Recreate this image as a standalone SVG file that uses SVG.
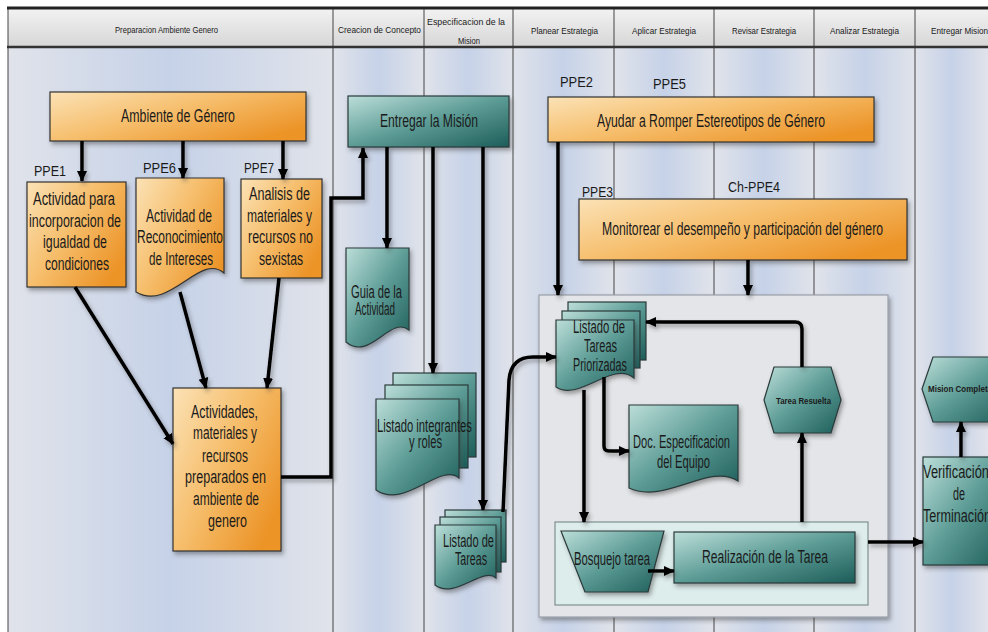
<svg xmlns="http://www.w3.org/2000/svg" width="988" height="632" viewBox="0 0 988 632">
<defs>
<linearGradient id="lane" x1="0" y1="0" x2="1" y2="0">
<stop offset="0" stop-color="#e0e3ea"/><stop offset="0.5" stop-color="#c6d2e8"/><stop offset="1" stop-color="#e0e3ea"/>
</linearGradient>
<linearGradient id="hdr" x1="0" y1="0" x2="0" y2="1">
<stop offset="0" stop-color="#f2f2f2"/><stop offset="1" stop-color="#d6d6d6"/>
</linearGradient>
<linearGradient id="og" x1="0" y1="0" x2="1" y2="0.7">
<stop offset="0" stop-color="#fbe2b6"/><stop offset="0.5" stop-color="#f6be6c"/><stop offset="1" stop-color="#ec9428"/>
</linearGradient>
<linearGradient id="tg" x1="0" y1="0" x2="1" y2="1">
<stop offset="0" stop-color="#bcded9"/><stop offset="0.5" stop-color="#5d9c96"/><stop offset="1" stop-color="#1d5d59"/>
</linearGradient>
<filter id="sh" x="-20%" y="-20%" width="140%" height="140%">
<feDropShadow dx="2" dy="3" stdDeviation="2" flood-color="#3a3a3a" flood-opacity="0.45"/>
</filter>
<marker id="ah" markerUnits="userSpaceOnUse" markerWidth="12" markerHeight="12" refX="10" refY="6" orient="auto">
<path d="M0,1 L11,6 L0,11 z" fill="#000"/>
</marker>
</defs>
<style>
.ln{stroke:#444;stroke-width:1}
.o{fill:url(#og);stroke:#333;stroke-width:1.2}
.tl{fill:url(#tg);stroke:#2a3a3a;stroke-width:1.2}
.t{font-family:"Liberation Sans Narrow","Liberation Sans",Arial,sans-serif;font-size:17.5px;fill:#1a1a1a}
.h{font-family:"Liberation Sans Narrow","Liberation Sans",Arial,sans-serif;font-size:9px;fill:#1a1a1a}
.p{font-family:"Liberation Sans Narrow","Liberation Sans",Arial,sans-serif;font-size:15px;fill:#1a1a1a}
.s{font-family:"Liberation Sans",Arial,sans-serif;font-size:9px;font-weight:bold;fill:#1a1a1a}
.c{fill:none;stroke:#000;stroke-width:3.5;marker-end:url(#ah)}
</style>
<rect width="988" height="632" fill="#ffffff"/>
<g id="lanes">
<rect x="8" y="48" width="325" height="584" fill="url(#lane)"/>
<rect x="333" y="48" width="91" height="584" fill="url(#lane)"/>
<rect x="424" y="48" width="89" height="584" fill="url(#lane)"/>
<rect x="513" y="48" width="101" height="584" fill="url(#lane)"/>
<rect x="614" y="48" width="100" height="584" fill="url(#lane)"/>
<rect x="714" y="48" width="100" height="584" fill="url(#lane)"/>
<rect x="814" y="48" width="101" height="584" fill="url(#lane)"/>
<rect x="915" y="48" width="73" height="584" fill="url(#lane)"/>
<rect x="8" y="9" width="980" height="38" fill="url(#hdr)"/>
<line class="ln" x1="8" y1="9" x2="8" y2="632" stroke-width="1.5"/>
<line class="ln" x1="333" y1="9" x2="333" y2="632"/>
<line class="ln" x1="424" y1="9" x2="424" y2="632"/>
<line class="ln" x1="513" y1="9" x2="513" y2="632"/>
<line class="ln" x1="614" y1="9" x2="614" y2="632"/>
<line class="ln" x1="714" y1="9" x2="714" y2="632"/>
<line class="ln" x1="814" y1="9" x2="814" y2="632"/>
<line class="ln" x1="915" y1="9" x2="915" y2="632"/>
<line x1="7" y1="8" x2="988" y2="8" stroke="#222" stroke-width="3"/>
<line x1="7" y1="47" x2="988" y2="47" stroke="#333" stroke-width="2.5"/>
<text class="h" x="115" y="33" textLength="103" lengthAdjust="spacingAndGlyphs">Preparacion Ambiente Genero</text>
<text class="h" x="338" y="33" textLength="83" lengthAdjust="spacingAndGlyphs">Creacion de Concepto</text>
<text class="h" x="427" y="25" textLength="78" lengthAdjust="spacingAndGlyphs">Especificacion de la</text>
<text class="h" x="458" y="44" textLength="22" lengthAdjust="spacingAndGlyphs">Mision</text>
<text class="h" x="531" y="34" textLength="67" lengthAdjust="spacingAndGlyphs">Planear Estrategia</text>
<text class="h" x="632" y="34" textLength="64" lengthAdjust="spacingAndGlyphs">Aplicar Estrategia</text>
<text class="h" x="732" y="34" textLength="64" lengthAdjust="spacingAndGlyphs">Revisar Estrategia</text>
<text class="h" x="830" y="34" textLength="69" lengthAdjust="spacingAndGlyphs">Analizar Estrategia</text>
<text class="h" x="931" y="34" textLength="57" lengthAdjust="spacingAndGlyphs">Entregar Mision</text>
</g>
<g id="container-estrategia">
<rect x="539" y="295" width="349" height="322" fill="#e4e5e8" stroke="#9a9ea8" stroke-width="1.2" filter="url(#sh)"/>
</g>
<g id="container-tarea">
<rect x="555" y="522" width="313" height="83" fill="#ddedeb" stroke="#7f8f8f" stroke-width="1.2"/>
</g>
<g id="ambiente">
<rect class="o" x="50" y="92" width="256" height="49" filter="url(#sh)"/>
<text class="t" x="121" y="122" textLength="114" lengthAdjust="spacingAndGlyphs">Ambiente de Género</text>
</g>
<g id="actividad-igualdad">
<rect class="o" x="27" y="182" width="99" height="105" filter="url(#sh)"/>
<text class="t" x="33" y="205" textLength="82" lengthAdjust="spacingAndGlyphs">Actividad para</text>
<text class="t" x="29" y="227" textLength="92" lengthAdjust="spacingAndGlyphs">incorporacion de</text>
<text class="t" x="43" y="248" textLength="64" lengthAdjust="spacingAndGlyphs">igualdad de</text>
<text class="t" x="45" y="270" textLength="64" lengthAdjust="spacingAndGlyphs">condiciones</text>
</g>
<g id="actividad-reconocimiento">
<path class="o" d="M136,178 H224 V273 C200,252 170,312 136,292 Z" filter="url(#sh)"/>
<text class="t" x="146" y="222" textLength="66" lengthAdjust="spacingAndGlyphs">Actividad de</text>
<text class="t" x="137" y="243" textLength="86" lengthAdjust="spacingAndGlyphs">Reconocimiento</text>
<text class="t" x="149" y="265" textLength="64" lengthAdjust="spacingAndGlyphs">de Intereses</text>
</g>
<g id="analisis-materiales">
<rect class="o" x="241" y="179" width="81" height="99" filter="url(#sh)"/>
<text class="t" x="249" y="200" textLength="61" lengthAdjust="spacingAndGlyphs">Analisis de</text>
<text class="t" x="247" y="222" textLength="65" lengthAdjust="spacingAndGlyphs">materiales y</text>
<text class="t" x="248" y="243" textLength="65" lengthAdjust="spacingAndGlyphs">recursos no</text>
<text class="t" x="259" y="265" textLength="44" lengthAdjust="spacingAndGlyphs">sexistas</text>
</g>
<g id="actividades-preparadas">
<rect class="o" x="173" y="388" width="108" height="163" filter="url(#sh)"/>
<text class="t" x="191" y="418" textLength="67" lengthAdjust="spacingAndGlyphs">Actividades,</text>
<text class="t" x="193" y="439" textLength="64" lengthAdjust="spacingAndGlyphs">materiales y</text>
<text class="t" x="202" y="462" textLength="46" lengthAdjust="spacingAndGlyphs">recursos</text>
<text class="t" x="185" y="483" textLength="81" lengthAdjust="spacingAndGlyphs">preparados en</text>
<text class="t" x="193" y="505" textLength="66" lengthAdjust="spacingAndGlyphs">ambiente de</text>
<text class="t" x="208" y="527" textLength="39" lengthAdjust="spacingAndGlyphs">genero</text>
</g>
<g id="entregar-mision">
<rect class="tl" x="348" y="96" width="161" height="51" filter="url(#sh)"/>
<text class="t" x="380" y="127" textLength="98" lengthAdjust="spacingAndGlyphs">Entregar la Misión</text>
</g>
<g id="guia-actividad">
<path class="tl" d="M346,248 H409 V330 C390,315 370,362 346,342 Z" filter="url(#sh)"/>
<text class="t" x="351" y="298" textLength="51" lengthAdjust="spacingAndGlyphs">Guia de la</text>
<text class="t" x="355" y="315" textLength="40" lengthAdjust="spacingAndGlyphs">Actividad</text>
</g>
<g id="listado-integrantes">
<rect class="tl" x="393" y="373" width="83" height="84"/>
<rect class="tl" x="385" y="385" width="83" height="83"/>
<path class="tl" d="M376,399 H459 V478 C440,462 405,510 376,490 Z" filter="url(#sh)"/>
<text class="t" x="377" y="432" textLength="95" lengthAdjust="spacingAndGlyphs">Listado integrantes</text>
<text class="t" x="409" y="448" textLength="33" lengthAdjust="spacingAndGlyphs">y roles</text>
</g>
<g id="listado-tareas">
<rect class="tl" x="445" y="510" width="61" height="52"/>
<rect class="tl" x="440" y="517" width="61" height="55"/>
<path class="tl" d="M435,525 H496 V578 C483,566 455,600 435,585 Z" filter="url(#sh)"/>
<text class="t" x="443" y="547" textLength="51" lengthAdjust="spacingAndGlyphs">Listado de</text>
<text class="t" x="455" y="565" textLength="32" lengthAdjust="spacingAndGlyphs">Tareas</text>
</g>
<g id="ayudar-romper">
<rect class="o" x="548" y="97" width="326" height="45" filter="url(#sh)"/>
<text class="t" x="597" y="127" textLength="228" lengthAdjust="spacingAndGlyphs">Ayudar a Romper Estereotipos de Género</text>
</g>
<g id="monitorear">
<rect class="o" x="579" y="199" width="328" height="61" filter="url(#sh)"/>
<text class="t" x="602" y="235" textLength="281" lengthAdjust="spacingAndGlyphs">Monitorear el desempeño y participación del género</text>
</g>
<g id="tareas-priorizadas">
<rect class="tl" x="568" y="302" width="78" height="58"/>
<rect class="tl" x="562" y="311" width="78" height="57"/>
<path class="tl" d="M556,320 H634 V378 C612,360 580,402 556,387 Z" filter="url(#sh)"/>
<text class="t" x="573" y="333" textLength="52" lengthAdjust="spacingAndGlyphs">Listado de</text>
<text class="t" x="584" y="352" textLength="33" lengthAdjust="spacingAndGlyphs">Tareas</text>
<text class="t" x="573" y="371" textLength="54" lengthAdjust="spacingAndGlyphs">Priorizadas</text>
</g>
<g id="doc-especificacion">
<path class="tl" d="M629,405 H738 V481 C710,462 665,505 629,488 Z" filter="url(#sh)"/>
<text class="t" x="633" y="448" textLength="97" lengthAdjust="spacingAndGlyphs">Doc. Especificacion</text>
<text class="t" x="657" y="468" textLength="53" lengthAdjust="spacingAndGlyphs">del Equipo</text>
</g>
<g id="tarea-resuelta">
<polygon class="tl" points="764,400 774,367 831,367 841,400 831,433 774,433" filter="url(#sh)"/>
<text class="s" x="776" y="404" textLength="55" lengthAdjust="spacingAndGlyphs">Tarea Resuelta</text>
</g>
<g id="bosquejo-tarea">
<polygon class="tl" points="561,531 664,531 648,592 585,592" filter="url(#sh)"/>
<text class="t" x="574" y="565" textLength="76" lengthAdjust="spacingAndGlyphs">Bosquejo tarea</text>
</g>
<g id="realizacion-tarea">
<rect class="tl" x="674" y="532" width="181" height="51" filter="url(#sh)"/>
<text class="t" x="702" y="563" font-size="19" textLength="126" lengthAdjust="spacingAndGlyphs">Realización de la Tarea</text>
</g>
<g id="verificacion">
<rect class="tl" x="923" y="457" width="80" height="108" filter="url(#sh)"/>
<text class="t" x="923" y="478" textLength="66" lengthAdjust="spacingAndGlyphs">Verificación</text>
<text class="t" x="953" y="500" textLength="12" lengthAdjust="spacingAndGlyphs">de</text>
<text class="t" x="923" y="522" textLength="68" lengthAdjust="spacingAndGlyphs">Terminación</text>
</g>
<g id="mision-completa">
<polygon class="tl" points="922,389 933,357 1000,357 1010,389 1000,422 933,422" filter="url(#sh)"/>
<text class="s" x="928" y="392" textLength="64" lengthAdjust="spacingAndGlyphs">Mision Completa</text>
</g>
<g id="ppe-labels">
<text class="p" x="34" y="176" textLength="32" lengthAdjust="spacingAndGlyphs">PPE1</text>
<text class="p" x="143" y="173" textLength="33" lengthAdjust="spacingAndGlyphs">PPE6</text>
<text class="p" x="244" y="173" textLength="30" lengthAdjust="spacingAndGlyphs">PPE7</text>
<text class="p" x="560" y="87" textLength="33" lengthAdjust="spacingAndGlyphs">PPE2</text>
<text class="p" x="653" y="89" textLength="33" lengthAdjust="spacingAndGlyphs">PPE5</text>
<text class="p" x="582" y="197" textLength="31" lengthAdjust="spacingAndGlyphs">PPE3</text>
<text class="p" x="728" y="192" textLength="52" lengthAdjust="spacingAndGlyphs">Ch-PPE4</text>
</g>
<g id="connectors" filter="url(#sh)">
<path class="c" d="M82,141 V181"/>
<path class="c" d="M183,141 V178"/>
<path class="c" d="M283,141 V179"/>
<path class="c" d="M75,287 L173,444"/>
<path class="c" d="M180,292 L206,388"/>
<path class="c" d="M279,278 L267,388"/>
<path class="c" d="M281,477 H331 V198 H363 V148"/>
<path class="c" d="M387,147 V248"/>
<path class="c" d="M433,147 V373"/>
<path class="c" d="M483,147 V510"/>
<path class="c" d="M503,512 L509,380 Q511,357 533,357 H556"/>
<path class="c" d="M558,142 V295"/>
<path class="c" d="M748,260 V295"/>
<path class="c" d="M604,377 V446 Q604,451 609,451 H629"/>
<path class="c" d="M584,390 V522"/>
<path class="c" d="M648,571 H674"/>
<path class="c" d="M802,522 V433"/>
<path class="c" d="M802,367 V329 Q802,322 795,322 H646"/>
<path class="c" d="M868,542 H923"/>
<path class="c" d="M961,457 V422"/>
</g>
</svg>
